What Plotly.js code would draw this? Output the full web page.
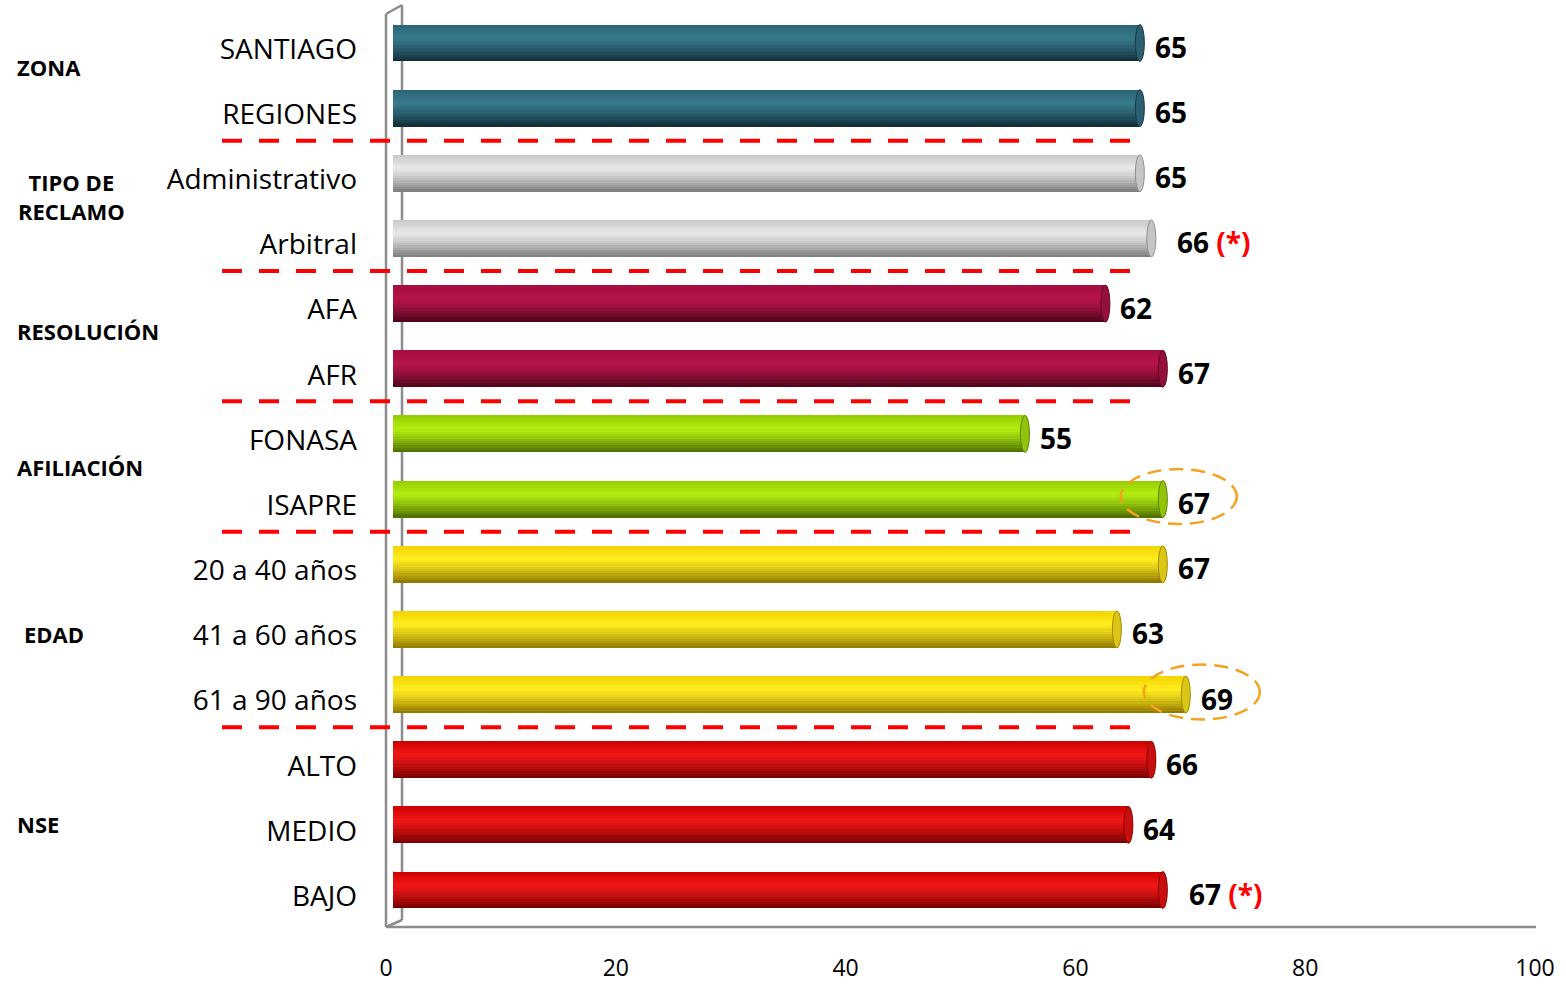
<!DOCTYPE html>
<html>
<head>
<meta charset="utf-8">
<script src="https://cdn.plot.ly/plotly-3.0.1.min.js"></script>
<style>
  html, body { margin: 0; padding: 0; background: #ffffff; }
  #chart { width: 1566px; height: 984px; }
</style>
</head>
<body>
<div id="chart"></div>
<script>
// ---- data ----
const categories = ['SANTIAGO', 'REGIONES', 'Administrativo', 'Arbitral', 'AFA', 'AFR',
  'FONASA', 'ISAPRE', '20 a 40 años', '41 a 60 años', '61 a 90 años', 'ALTO', 'MEDIO', 'BAJO'];
const values = [65, 65, 65, 66, 62, 67, 55, 67, 67, 63, 69, 66, 64, 67];
const groupOf = [0, 0, 1, 1, 2, 2, 3, 3, 4, 4, 4, 5, 5, 5];
const groupNames = ['ZONA', 'TIPO DE<br>RECLAMO', 'RESOLUCIÓN', 'AFILIACIÓN', 'EDAD', 'NSE'];
const flagged = ['Arbitral', 'BAJO'];          // values marked with (*)
const circled = ['ISAPRE', '61 a 90 años'];    // values highlighted with a dashed ring
const xTicks = [0, 20, 40, 60, 80, 100];

// ---- styling ----
// cylinder shading per group: top, highlight band, bottom
const groupShades = [
  ['#2a6475', '#36798b', '#112b33'],
  ['#c8c8c8', '#e8e8e8', '#7a7a7a'],
  ['#a30c3e', '#b6144c', '#4a0416'],
  ['#94cb00', '#b2ec10', '#4a6a00'],
  ['#f2d400', '#ffec1e', '#8c7400'],
  ['#cc0000', '#f01616', '#720000']
];
// group label placement (page pixels): [x, y, anchor]
const groupLabelPos = [
  [15, 67, 'left'], [71, 196, 'center'], [15, 331, 'left'],
  [15, 467, 'left'], [22, 634, 'left'], [15, 824, 'left']
];

const W = 1566, H = 984;
const M = { l: 386, r: 20, t: 5, b: 55 };
const plotW = W - M.l - M.r, plotH = H - M.t - M.b;
const px = p => (p - M.l) / plotW;                 // page x -> paper x
const py = p => (H - M.b - p) / plotH;             // page y -> paper y

function hexToRgb(h) {
  const n = parseInt(h.slice(1), 16);
  return [(n >> 16) & 255, (n >> 8) & 255, n & 255];
}
function mix(a, b, t) {
  const A = hexToRgb(a), B = hexToRgb(b);
  return 'rgb(' + A.map((v, i) => Math.round(v + (B[i] - v) * t)).join(',') + ')';
}
function shade(stops, t) {
  const hi = 0.35;
  if (t <= hi) return mix(stops[0], stops[1], t / hi);
  const u = (t - hi) / (1 - hi);
  return mix(stops[1], stops[2], Math.pow(u, 1.3));
}

// ---- bars: stacked horizontal strips give the cylinder shading ----
const thick = 0.567;
const nStrips = 16;
const traces = [];
for (let s = 0; s < nStrips; s++) {
  const off = -thick / 2 + s * thick / nStrips;
  const wid = Math.min(thick / nStrips * 1.35, thick / 2 - off);
  const t = (s + 0.5) / nStrips;
  traces.push({
    type: 'bar', orientation: 'h',
    x: values, y: categories,
    xaxis: 'x2', yaxis: 'y2',
    offset: off, width: wid,
    marker: { color: categories.map((c, i) => shade(groupShades[groupOf[i]], t)), line: { width: 0 } },
    hoverinfo: 'skip', showlegend: false
  });
}
// carrier for the category labels on the front plane
traces.push({
  type: 'scatter', mode: 'markers', x: values, y: categories,
  xaxis: 'x', yaxis: 'y', marker: { opacity: 0 }, hoverinfo: 'skip', showlegend: false
});

// ---- shapes ----
const frameColor = '#8c8c8c';
const shapes = [];
function frameLine(x0, y0, x1, y1) {
  shapes.push({ type: 'line', xref: 'paper', yref: 'paper', layer: 'below',
    x0: px(x0), y0: py(y0), x1: px(x1), y1: py(y1), line: { color: frameColor, width: 2.5 } });
}
frameLine(386, 14, 386, 927);
frameLine(402, 5, 402, 920);
frameLine(386, 14, 402, 5);
frameLine(386, 927, 402, 920);
frameLine(386, 927, 1536, 927);

categories.forEach((c, i) => {
  const st = groupShades[groupOf[i]];
  // rounded left end
  shapes.push({ type: 'circle', layer: 'below', xref: 'x2', yref: 'y2',
    xsizemode: 'pixel', ysizemode: 'pixel', xanchor: 0, yanchor: i,
    x0: -5, x1: 5, y0: -18.5, y1: 18.5,
    fillcolor: shade(st, 0.45), line: { width: 0 } });
  // visible end face
  shapes.push({ type: 'circle', layer: 'above', xref: 'x2', yref: 'y2',
    xsizemode: 'pixel', ysizemode: 'pixel', xanchor: values[i], yanchor: i,
    x0: -4.5, x1: 4.5, y0: -18.5, y1: 18.5,
    fillcolor: shade(st, 0.62), line: { color: shade(st, 0.9), width: 1 } });
});

// dashed separators between groups
for (let i = 1; i < categories.length; i++) {
  if (groupOf[i] !== groupOf[i - 1]) {
    shapes.push({ type: 'line', xref: 'paper', yref: 'y2', layer: 'above',
      x0: px(222), x1: px(1130), y0: i - 0.5, y1: i - 0.5,
      line: { color: '#ff0000', width: 4, dash: '20px,17px' } });
  }
}

// dashed rings around highlighted values
categories.forEach((c, i) => {
  if (circled.includes(c)) {
    shapes.push({ type: 'circle', layer: 'above', xref: 'x2', yref: 'y2',
      xsizemode: 'pixel', ysizemode: 'pixel', xanchor: values[i], yanchor: i,
      x0: -42, x1: 74, y0: -25, y1: 30,
      line: { color: '#f5a01e', width: 2.5, dash: '14px,8px' } });
  }
});

// ---- annotations ----
const annotations = [];
categories.forEach((c, i) => {
  const isFlag = flagged.includes(c);
  annotations.push({
    xref: 'x2', yref: 'y2', x: values[i], y: i,
    xanchor: 'left', yanchor: 'middle', showarrow: false,
    xshift: isFlag ? 24 : 13, yshift: -4,
    text: values[i] + (isFlag ? ' <span style="color:#ff0000">(*)</span>' : ''),
    font: { family: 'Open Sans', size: 28, weight: 700, color: '#000000' }
  });
});
groupNames.forEach((g, k) => {
  const [gx, gy, anc] = groupLabelPos[k];
  annotations.push({
    xref: 'paper', yref: 'paper', x: px(gx), y: py(gy),
    xanchor: anc, yanchor: 'middle', align: 'center', showarrow: false,
    text: g, font: { family: 'Open Sans', size: 22, weight: 700, color: '#000000' }
  });
});

const layout = {
  width: W, height: H, margin: M,
  paper_bgcolor: '#ffffff', plot_bgcolor: 'rgba(0,0,0,0)',
  showlegend: false, barmode: 'overlay', bargap: 0,
  font: { family: 'Open Sans', color: '#000000' },
  xaxis: {
    anchor: 'y', domain: [0, 1149 / plotW], range: [0, 100], fixedrange: true,
    tickvals: xTicks, ticktext: xTicks.map(String),
    showgrid: false, zeroline: false, showline: false, ticks: '',
    tickfont: { size: 23, color: '#000000' }, ticklabelstandoff: 23
  },
  yaxis: {
    anchor: 'x', domain: [py(928.6), py(16.4)], type: 'category',
    categoryarray: categories, range: [categories.length - 0.5, -0.5], fixedrange: true,
    showgrid: false, zeroline: false, showline: false, ticks: '',
    tickfont: { size: 28, color: '#000000' }, ticklabelstandoff: 28
  },
  xaxis2: {
    anchor: 'y2', domain: [7 / plotW, 1156 / plotW], range: [0, 100], visible: false, fixedrange: true
  },
  yaxis2: {
    anchor: 'x2', domain: [py(922.6), py(10.4)], type: 'category',
    categoryarray: categories, range: [categories.length - 0.5, -0.5], visible: false, fixedrange: true
  },
  shapes: shapes,
  annotations: annotations
};

Plotly.newPlot('chart', traces, layout, { staticPlot: true, displayModeBar: false });
</script>
</body>
</html>
